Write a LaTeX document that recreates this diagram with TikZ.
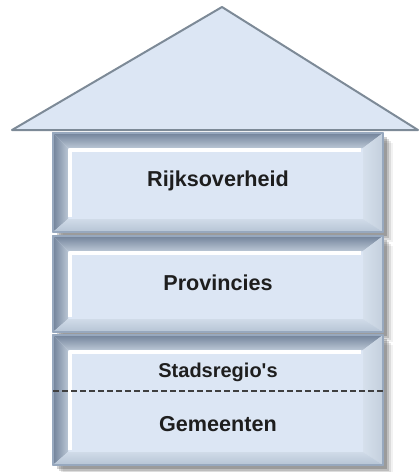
\documentclass[tikz,border=0pt]{standalone}
\usepackage{fontspec}
\setmainfont{Liberation Sans}
\usepackage{tikz}
\usetikzlibrary{calc}
\definecolor{facec}{HTML}{DCE6F4}
\definecolor{bevdark}{HTML}{72839A}
\definecolor{bevlight}{HTML}{BAC6D5}
\definecolor{bevrin}{HTML}{D6E0EC}
\definecolor{bevrout}{HTML}{C3CFDD}
\definecolor{bevbtop}{HTML}{D0DBE8}
\definecolor{bevbbot}{HTML}{B6C4D5}
\definecolor{bordc}{HTML}{97A8BE}
\definecolor{roofc}{HTML}{7D8A97}
\definecolor{txtc}{HTML}{1E1E1E}
% #1 name, #2 top, #3 bottom (pixel rows)
\newcommand{\tier}[3]{%
  \foreach \s/\o in {10/0.05,8/0.09,6/0.14,4/0.18}
    \fill[black, opacity=\o] (53+\s,#2+\s) rectangle (383+\s,#3+\s);
  \node[rectangle, draw=bordc, fill=facec, line width=0.6pt,
        minimum width=165pt, minimum height={(#3-#2)*0.5pt},
        inner sep=0pt, outer sep=0pt] (#1) at (218,{(#2+#3)/2}) {};
  \shade[top color=bevdark, bottom color=bevlight]
    (#1.north west) -- (#1.north east) -- ($(#1.north east)+(-20,15)$)
    -- ($(#1.north west)+(15,15)$) -- cycle;
  \shade[left color=bevdark, right color=bevlight]
    (#1.north west) -- ($(#1.north west)+(15,15)$)
    -- ($(#1.south west)+(15,-13)$) -- (#1.south west) -- cycle;
  \shade[left color=bevrin, right color=bevrout]
    (#1.north east) -- (#1.south east) -- ($(#1.south east)+(-20,-13)$)
    -- ($(#1.north east)+(-20,15)$) -- cycle;
  \shade[top color=bevbtop, bottom color=bevbbot]
    (#1.south west) -- ($(#1.south west)+(15,-13)$)
    -- ($(#1.south east)+(-20,-13)$) -- (#1.south east) -- cycle;
  \draw[white, line width=2pt]
    ($(#1.south west)+(17,-15)$) -- ($(#1.north west)+(17,17)$)
    -- ($(#1.north east)+(-22,17)$);
  \draw[bordc, line width=0.6pt] (#1.north west) rectangle (#1.south east);
}

\begin{document}
\begin{tikzpicture}[x=0.5pt, y=-0.5pt, line join=round,
    tiertext/.style={font=\fontsize{10.8}{13}\selectfont\bfseries, text=txtc},
    splitline/.style={draw=black!75, line width=1.1pt, dash pattern=on 3pt off 1.5pt}]
  \useasboundingbox (0,0) rectangle (419,472);
  % roof
  \coordinate (apex) at (222,7);
  \coordinate (eaveL) at (12,130);
  \coordinate (eaveR) at (418,130);
  \filldraw[fill=facec, draw=roofc, line width=1pt] (apex) -- (eaveL) -- (eaveR) -- cycle;
  % tiers
  \tier{rijk}{133}{232}
  \tier{prov}{236}{332}
  \tier{gem}{335}{465}
  \coordinate (splitL) at (53,391);
  \coordinate (splitR) at (383,391);
  \draw[splitline] (splitL) -- (splitR);
  \node[tiertext] (trijk) at (218,181) {Rijksoverheid};
  \node[tiertext] (tprov) at (218,283) {Provincies};
  \node[tiertext, font=\fontsize{10}{12}\selectfont\bfseries] (tstad) at (218,372) {Stadsregio\textquotesingle s};
  \node[tiertext] (tgem) at (218,424) {Gemeenten};
\end{tikzpicture}
\end{document}
